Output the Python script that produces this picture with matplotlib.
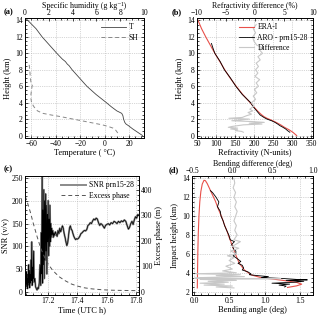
import matplotlib
matplotlib.use("Agg")
import matplotlib.pyplot as plt
from matplotlib.ticker import AutoMinorLocator, MultipleLocator

plt.rcParams['font.family'] = ['Liberation Serif', 'DejaVu Serif']
plt.rcParams['mathtext.fontset'] = 'stix'

# ---- (a) temperature / specific humidity profile
t_height = [14.2, 13.0, 12.0, 11.0, 10.0, 9.3, 9.0, 8.7, 8.5, 8.0, 7.0, 6.0, 5.0, 4.0,
            3.5, 3.0, 2.7, 2.4, 2.0, 1.6, 1.4, 1.2, 0.8, 0.4, 0.0]
temp = [-64, -56, -51, -45, -39, -34.5, -32, -30.5, -29, -26.5, -20.5, -14.5, -7, 1.5,
        5.5, 10, 14, 15, 15.5, 16.5, 17.5, 19.5, 23, 27, 31]
sh_height = [8.6, 8.0, 7.0, 6.5, 6.2, 5.6, 5.0, 4.5, 4.0, 3.5, 3.0, 2.7, 2.5, 2.3, 2.1,
             1.9, 1.7, 1.5, 1.3, 1.1, 0.9, 0.7, 0.4, 0.2, 0.0]
sh = [0.35, 0.4, 0.45, 0.5, 0.62, 0.55, 0.5, 0.5, 0.55, 0.75, 1.05, 1.5, 2.2, 3.0, 3.7,
      4.4, 5.1, 5.8, 6.5, 7.0, 7.4, 7.6, 7.75, 7.85, 7.9]

# ---- (b) refractivity
era_height = [14.2, 13.0, 12.0, 11.0, 10.0, 9.0, 8.0, 7.0, 6.0, 5.0, 4.0, 3.5, 3.0, 2.6,
              2.3, 2.1, 1.9, 1.7, 1.5, 1.3, 1.0, 0.7, 0.4, 0.0]
era_n = [51, 62, 73, 85, 97, 110, 123, 137, 153, 170, 190, 199, 209, 218,
         226, 234, 244, 254, 262, 270, 280, 292, 302, 312]
aro_height = [11.2, 10.5, 10.0, 9.0, 8.0, 7.0, 6.0, 5.0, 4.0, 3.5, 3.0, 2.5, 2.2, 2.0,
              1.8, 1.6, 1.4, 1.2, 1.0, 0.8, 0.6, 0.4]
aro_n = [88, 93, 97, 111, 122, 138, 152, 169, 191, 198, 207, 216, 226, 234,
         246, 255, 262, 268, 276, 283, 288, 294]
dn_height = [13.5, 13.0, 12.5, 12.0, 11.5, 11.0, 10.7, 10.4, 10.0, 9.6, 9.2, 8.8, 8.4,
             8.0, 7.6, 7.2, 6.8, 6.4, 6.0, 5.6, 5.2, 4.8, 4.4, 4.0, 3.6, 3.2, 3.0,
             2.8, 2.6, 2.4, 2.2, 2.1, 2.0, 1.9, 1.8, 1.7, 1.6, 1.5, 1.4, 1.3, 1.2,
             1.1, 1.0, 0.9, 0.8, 0.7, 0.6, 0.5, 0.4]
dn = [0.2, -0.3, 0.1, -0.4, -0.2, 0.3, 1.2, 0.8, 1.3, 0.5, 0.9, 0.2, 0.6,
      0.1, 0.5, 0.0, 0.8, 0.2, 0.6, -0.1, 0.3, -0.3, 0.1, -0.6, -0.2, -0.9, -0.4,
      -1.2, -0.6, -1.5, -2.2, -4.5, -1.0, -2.5, -4.0, -0.5, 1.6, -1.0, 1.2, -2.0, -3.0,
      -4.0, -4.6, -3.0, -4.2, -3.0, -3.4, -2.3, -2.0]

# ---- (c) SNR and excess phase
snr_time = [17.045, 17.048, 17.050, 17.053, 17.055, 17.058, 17.060, 17.063, 17.065, 17.068,
            17.070, 17.073, 17.075, 17.078, 17.080, 17.083, 17.086, 17.089, 17.092, 17.095,
            17.098, 17.101, 17.105, 17.110, 17.115, 17.120, 17.125, 17.130, 17.135, 17.140,
            17.145, 17.150, 17.153, 17.156, 17.160, 17.162, 17.165, 17.168, 17.171, 17.174,
            17.177, 17.180, 17.183, 17.186, 17.189, 17.192, 17.195, 17.198, 17.201, 17.204,
            17.207, 17.210, 17.213, 17.216, 17.219, 17.222, 17.225, 17.228, 17.232, 17.236,
            17.240, 17.245, 17.250, 17.255, 17.262, 17.268, 17.274, 17.280, 17.286, 17.292,
            17.298, 17.304, 17.310, 17.316, 17.322, 17.328, 17.334, 17.340, 17.346, 17.352,
            17.358, 17.364, 17.370, 17.376, 17.382, 17.388, 17.394, 17.400, 17.408, 17.416,
            17.424, 17.432, 17.440, 17.448, 17.456, 17.464, 17.472, 17.480, 17.488, 17.496,
            17.504, 17.512, 17.520, 17.528, 17.536, 17.544, 17.552, 17.560, 17.568, 17.576,
            17.584, 17.592, 17.600, 17.610, 17.620, 17.630, 17.640, 17.650, 17.660, 17.670,
            17.680, 17.690, 17.700, 17.710, 17.720, 17.730, 17.740, 17.748, 17.756, 17.764,
            17.772, 17.780, 17.788, 17.796, 17.804, 17.812, 17.820]
snr = [20, 35, 12, 45, 18, 30, 8, 40, 22, 60,
       15, 48, 10, 38, 20, 70, 25, 110, 15, 55,
       30, 90, 22, 30, 12, 8, 5, 10, 8, 20,
       60, 15, 130, 40, 254, 20, 180, 60, 224, 30,
       200, 70, 215, 90, 190, 40, 170, 110, 200, 80,
       160, 100, 190, 110, 150, 120, 140, 125, 135, 120,
       130, 124, 132, 128, 122, 135, 128, 140, 132, 138,
       145, 140, 128, 120, 110, 102, 108, 125, 140, 145,
       138, 135, 128, 122, 118, 115, 117, 116, 118, 122,
       128, 130, 133, 135, 134, 137, 146, 148, 152, 150,
       156, 160, 158, 162, 160, 152, 146, 150, 148, 144,
       140, 146, 148, 150, 147, 152, 150, 155, 153, 150,
       155, 152, 156, 154, 158, 155, 145, 138, 142, 150,
       155, 148, 158, 165, 162, 170, 168]
phase_time = [17.045, 17.06, 17.08, 17.10, 17.125, 17.15, 17.175, 17.20, 17.225, 17.25,
              17.28, 17.32, 17.36, 17.40, 17.45, 17.50, 17.56, 17.62, 17.70, 17.82]
phase = [375, 350, 312, 268, 218, 172, 138, 110, 90, 74,
         58, 43, 31, 23, 16, 12, 9, 7, 6, 5]

# ---- (d) bending angle
era_b = [0.045, 0.048, 0.052, 0.058, 0.068, 0.08, 0.095, 0.115, 0.14, 0.16, 0.185, 0.21,
         0.25, 0.30, 0.34, 0.39, 0.43, 0.47, 0.50, 0.54, 0.57, 0.61, 0.64, 0.71, 0.81,
         0.95, 1.14, 1.32, 1.45, 1.52, 1.45, 1.32]
era_bh = [2.4, 4.0, 6.0, 8.0, 10.0, 11.5, 12.6, 13.4, 13.8, 13.75, 13.45, 13.05,
          12.4, 11.6, 10.8, 9.9, 9.06, 8.3, 7.65, 6.9, 6.23, 5.5, 5.0, 4.3, 3.77,
          3.48, 3.31, 3.13, 2.98, 2.8, 2.62, 2.45]
aro_bh = [12.7, 12.5, 12.0, 11.5, 11.0, 10.5, 10.0, 9.5, 9.0, 8.5, 8.0, 7.5, 7.3, 7.0,
          6.5, 6.3, 6.0, 5.8, 5.5, 5.2, 5.0, 4.8, 4.5, 4.3, 4.1, 3.9, 3.8, 3.7, 3.6,
          3.5, 3.4, 3.3, 3.25, 3.2, 3.1, 3.0, 2.9, 2.8, 2.7, 2.6, 2.5]
aro_b = [0.23, 0.26, 0.31, 0.35, 0.33, 0.37, 0.38, 0.41, 0.43, 0.46, 0.49, 0.51, 0.57, 0.53,
         0.56, 0.59, 0.59, 0.55, 0.61, 0.66, 0.62, 0.68, 0.70, 0.68, 0.76, 0.80, 0.78, 0.90, 1.05,
         0.95, 1.25, 1.45, 1.60, 1.30, 1.55, 1.40, 1.10, 1.35, 1.20, 1.30, 1.28]
db_h = [14.0, 13.5, 13.0, 12.5, 12.0, 11.5, 11.0, 10.5, 10.0, 9.5, 9.0, 8.5, 8.0, 7.5,
        7.3, 7.0, 6.8, 6.6, 6.3, 6.0, 5.8, 5.6, 5.3, 5.0, 4.7, 4.4, 4.2, 4.0, 3.9, 3.8,
        3.7, 3.6, 3.5, 3.42, 3.38, 3.3, 3.2, 3.1, 3.0, 2.9, 2.8, 2.7, 2.6, 2.5, 2.4]
db = [0.02, 0.03, 0.01, 0.04, 0.02, 0.05, 0.03, 0.06, 0.04, 0.02, 0.05, 0.03, 0.06, 0.02,
      0.10, 0.04, 0.0, 0.08, -0.02, 0.05, -0.06, 0.02, -0.04, 0.03, -0.08, 0.0, -0.12, 0.05,
      -0.45, 0.1, -0.2, 0.15, -0.35, -0.47, 0.6, -0.4, 0.05, -0.3, -0.05, -0.4, -0.1, -0.35,
      0.0, -0.2, 0.02]

FS = 5.5
W, H = 320, 316


def box(l, t, r, b):
    return [l / W, 1 - b / H, (r - l) / W, (b - t) / H]


def style(ax, minor_x=True, minor_y=True, pad=1.5, size=FS):
    ax.tick_params(which='both', direction='in', labelsize=size, width=0.5, pad=pad)
    ax.tick_params(which='major', length=2.5)
    ax.tick_params(which='minor', length=1.2)
    if minor_x:
        ax.xaxis.set_minor_locator(AutoMinorLocator())
    if minor_y:
        ax.yaxis.set_minor_locator(AutoMinorLocator())
    for s in ax.spines.values():
        s.set_linewidth(0.6)


def grid(ax):
    ax.grid(True, ls=':', color='#b0b0b0', lw=0.5)


def top_label(ax, text):
    # top x label sits tight against the top tick labels
    ax.set_xlabel(text, fontsize=5.7, labelpad=0.8)


fig = plt.figure(figsize=(3.2, 3.16), dpi=100)

# (a)
ax = fig.add_axes(box(25, 18, 144, 138))
l1, = ax.plot(temp, t_height, color='#444444', lw=0.6)
ax.set_xlim(-65, 32.2)
ax.set_ylim(-0.3, 14.3)
ax.xaxis.set_major_locator(MultipleLocator(20))
ax.yaxis.set_major_locator(MultipleLocator(2))
ax.set_xlabel('Temperature ( \u00b0C)', fontsize=6, labelpad=1)
ax.set_ylabel('Height (km)', fontsize=6, labelpad=2)
ax.yaxis.set_ticks_position('both')
style(ax)
grid(ax)
at = ax.twiny()
l2, = at.plot(sh, sh_height, color='#888888', lw=0.7, dashes=(4, 3))
at.set_xlim(0, 10)
at.xaxis.set_major_locator(MultipleLocator(2))
top_label(at, 'Specific humidity (g kg\u207b\u00b9)')
style(at, minor_y=False, pad=0.5)
at.legend([l1, l2], ['T', 'SH'], loc='upper right', frameon=False, fontsize=FS,
          handlelength=3.2, labelspacing=0.3, handletextpad=0.4, borderaxespad=0.3)

# (b)
ax = fig.add_axes(box(197, 18, 313, 138))
grid(ax)
r1, = ax.plot(era_n, era_height, color='#e8504a', lw=0.8)
r2, = ax.plot(aro_n, aro_height, color='black', lw=0.6)
ax.set_xlim(50, 355)
ax.set_ylim(-0.3, 14.3)
ax.xaxis.set_major_locator(MultipleLocator(50))
ax.yaxis.set_major_locator(MultipleLocator(2))
ax.set_xlabel('Refractivity (N-units)', fontsize=6, labelpad=1)
ax.set_ylabel('Height (km)', fontsize=6, labelpad=2)
ax.yaxis.set_ticks_position('both')
style(ax)
bt = ax.twiny()
r3, = bt.plot(dn, dn_height, color='#c8c8c8', lw=0.8)
bt.set_xlim(-10, 10)
bt.xaxis.set_major_locator(MultipleLocator(5))
top_label(bt, 'Refractivity difference (%)')
style(bt, minor_y=False, pad=0.5)
bt.legend([r1, r2, r3], ['ERA-I', 'ARO - prn15-28', 'Difference'], loc='upper right',
          frameon=False, fontsize=FS, handlelength=2.0, labelspacing=0.3,
          handletextpad=0.4, borderaxespad=0.3)

# (c)
ax = fig.add_axes(box(25, 176, 139, 295))
grid(ax)
s1, = ax.plot(snr_time, snr, color='#8a8a8a', lw=1.4)
ax.plot(snr_time, snr, color='black', lw=0.5)
ax.set_xlim(17.043, 17.82)
ax.set_ylim(-6, 254)
ax.xaxis.set_major_locator(MultipleLocator(0.2))
ax.yaxis.set_major_locator(MultipleLocator(50))
ax.set_xlabel('Time (UTC h)', fontsize=6, labelpad=1)
ax.set_ylabel('SNR (v/v)', fontsize=6, labelpad=2)
style(ax)
ct = ax.twinx()
s2, = ct.plot(phase_time, phase, color='#555555', lw=0.7, dashes=(4, 3))
ct.set_ylim(-12, 455)
ct.yaxis.set_major_locator(MultipleLocator(100))
ct.set_ylabel('Excess phase (m)', fontsize=6, labelpad=2)
style(ct, minor_x=False)
ct.legend([s1, s2], ['SNR prn15-28', 'Excess phase'], loc='upper right', frameon=False,
          fontsize=FS, handlelength=3.2, labelspacing=0.3, handletextpad=0.4,
          borderaxespad=0.3)

# (d)
ax = fig.add_axes(box(192, 176, 313, 295))
grid(ax)
ax.plot(era_b, era_bh, color='#e8504a', lw=0.8)
ax.plot(aro_b, aro_bh, color='black', lw=0.6)
ax.set_xlim(-0.03, 1.68)
ax.set_ylim(1.65, 14.25)
ax.xaxis.set_major_locator(MultipleLocator(0.5))
ax.yaxis.set_major_locator(MultipleLocator(2))
ax.set_xlabel('Bending angle (deg)', fontsize=6, labelpad=1)
ax.set_ylabel('Impact height (km)', fontsize=6, labelpad=2)
ax.yaxis.set_ticks_position('both')
style(ax)
dt = ax.twiny()
dt.plot(db, db_h, color='#c8c8c8', lw=0.8)
dt.set_xlim(-0.5, 1.0)
dt.xaxis.set_major_locator(MultipleLocator(0.5))
top_label(dt, 'Bending difference (deg)')
style(dt, minor_y=False, pad=0.5)

for txt, x, y in [('(a)', 4, 12), ('(b)', 172, 12), ('(c)', 4, 169), ('(d)', 169, 170)]:
    fig.text(x / W, 1 - y / H, txt, fontsize=6, fontweight='bold', va='center', ha='left')

fig.savefig('out.png', dpi=100)
